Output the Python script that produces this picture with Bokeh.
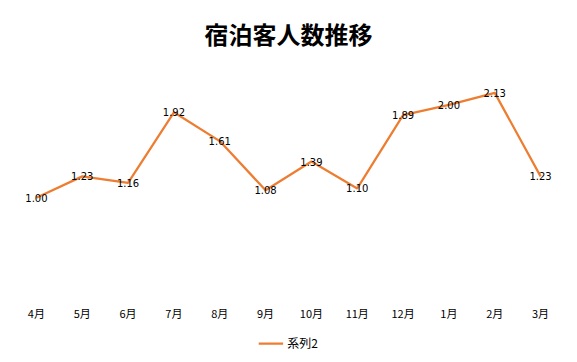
from bokeh.plotting import figure
from bokeh.models import ColumnDataSource, Legend, LegendItem, Range1d
from bokeh.core.properties import value
from bokeh.embed import file_html
from bokeh.resources import INLINE

months = ["4月", "5月", "6月", "7月", "8月", "9月", "10月", "11月", "12月", "1月", "2月", "3月"]
series2 = [1.00, 1.23, 1.16, 1.92, 1.61, 1.08, 1.39, 1.10, 1.89, 2.00, 2.13, 1.23]
series_name = "系列2"
title_text = "宿泊客人数推移"

src = ColumnDataSource(dict(
    x=months,
    y=series2,
    lbl=[f"{v:.2f}" for v in series2],
))

# the frame extends below zero so that the legend can sit inside it
p = figure(
    frame_width=550, frame_height=294,
    x_range=months, y_range=Range1d(-0.668, 2.5),
    output_backend="svg", toolbar_location=None,
    min_border_left=13, min_border_right=6, min_border_top=58, min_border_bottom=6,
    outline_line_color=None,
)
p.title.text = title_text
p.title.align = "center"
p.title.text_font = "Noto Sans CJK JP"
p.title.text_font_size = "24px"
p.title.text_font_style = "bold"
p.title.text_color = "#000000"
p.title.standoff = 16

p.xgrid.visible = False
p.ygrid.visible = False
p.yaxis.visible = False

xa = p.xaxis[0]
xa.axis_line_color = None
xa.major_tick_line_color = None
xa.minor_tick_line_color = None
xa.major_tick_in = 0
xa.major_tick_out = 0
xa.major_label_standoff = -48
xa.major_label_text_font = "Noto Sans CJK JP"
xa.major_label_text_font_size = "11px"
xa.major_label_text_color = "#000000"

r = p.line("x", "y", source=src, line_color="#ED7D31", line_width=2.25)

p.text("x", "y", text="lbl", source=src,
       text_font=value("DejaVu Sans"), text_font_size="10px",
       text_align="center", text_baseline="middle", text_color="#000000")

legend = Legend(items=[LegendItem(label=series_name, renderers=[r])],
                orientation="horizontal", location="bottom_center",
                border_line_alpha=0, background_fill_alpha=0,
                label_text_font="Noto Sans CJK JP", label_text_font_size="12px",
                label_text_color="#000000", label_height=14,
                glyph_width=25, glyph_height=14, label_standoff=4,
                margin=0, padding=1, spacing=0)
p.add_layout(legend, "center")

open("out.html", "w").write(file_html(p, INLINE))
